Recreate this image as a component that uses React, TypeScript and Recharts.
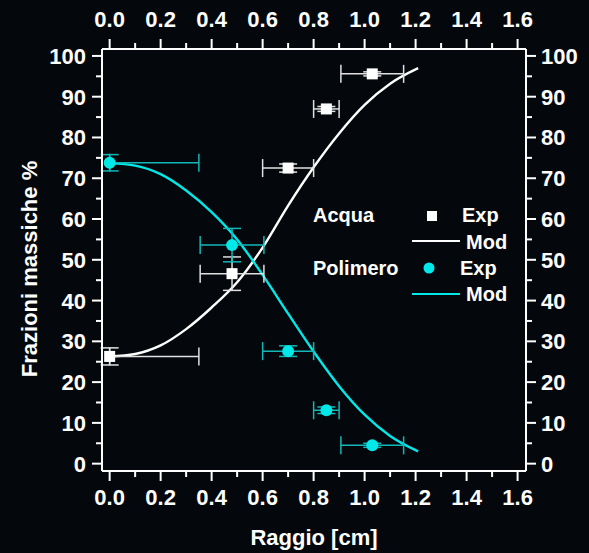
import { ComposedChart, Line, Scatter, ErrorBar, XAxis, YAxis } from 'recharts';

// experimental points (raggio in cm, frazioni in %)
const radius = [0, 0.48, 0.7, 0.85, 1.03];
const radiusErr = [[0, 0.35], [0.125, 0.125], [0.1, 0.1], [0.05, 0.05], [0.123, 0.123]];
const acquaExp = [26.3, 46.6, 72.5, 87.0, 95.6];
const acquaErr = [2.1, 4.1, 1.0, 0.6, 0.5];
const polimeroExp = [73.8, 53.6, 27.6, 13.1, 4.5];
const polimeroErr = [2.0, 4.1, 1.3, 0.8, 0.5];

// model curves
const modelRadius = [0, 0.1, 0.2, 0.3, 0.4, 0.5, 0.6, 0.7, 0.8, 0.9, 1.0, 1.1, 1.21];
const acquaMod = [26.3, 26.9, 29.0, 33.0, 38.3, 44.5, 53.0, 63.3, 72.7, 81.0, 88.0, 93.2, 97.0];
const polimeroMod = [73.7, 73.1, 71.0, 67.0, 61.7, 55.0, 46.3, 36.8, 27.5, 19.0, 12.0, 6.8, 3.0];

const xTicks = [0, 0.1, 0.2, 0.3, 0.4, 0.5, 0.6, 0.7, 0.8, 0.9, 1.0, 1.1, 1.2, 1.3, 1.4, 1.5, 1.6];
const yTicks = [0, 5, 10, 15, 20, 25, 30, 35, 40, 45, 50, 55, 60, 65, 70, 75, 80, 85, 90, 95, 100];

const acquaData = radius.map((x, i) => ({ x, y: acquaExp[i], ex: radiusErr[i], ey: acquaErr[i] }));
const polimeroData = radius.map((x, i) => ({ x, y: polimeroExp[i], ex: radiusErr[i], ey: polimeroErr[i] }));
const modelData = modelRadius.map((x, i) => ({ x, acqua: acquaMod[i], polimero: polimeroMod[i] }));

const FONT = '"Liberation Sans", Arial, Helvetica, sans-serif';
const CYAN = '#00e8e8';
const BG = '#04080c';

const xMajor = (v: number) => Math.round(v * 10) % 2 === 0;
const yMajor = (v: number) => v % 10 === 0;

const label = (x: number, y: number, txt: string, anchor: string) => (
  <text x={x} y={y} textAnchor={anchor} fill="#fff" fontSize={22} fontWeight="bold" fontFamily={FONT}>
    {txt}
  </text>
);

const BottomTick = ({ x, y, payload }: any) => {
  const v = payload.value;
  const m = xMajor(v);
  return (
    <g>
      <line x1={x} y1={y} x2={x} y2={y + (m ? 10 : 6)} stroke="#fff" strokeWidth={2} />
      {m && label(x, y + 34, v.toFixed(1), 'middle')}
    </g>
  );
};

const TopTick = ({ x, y, payload }: any) => {
  const v = payload.value;
  const m = xMajor(v);
  return (
    <g>
      <line x1={x} y1={y} x2={x} y2={y - (m ? 10 : 6)} stroke="#fff" strokeWidth={2} />
      {m && label(x, y - 22, v.toFixed(1), 'middle')}
    </g>
  );
};

const LeftTick = ({ x, y, payload }: any) => {
  const v = payload.value;
  const m = yMajor(v);
  return (
    <g>
      <line x1={x} y1={y} x2={x - (m ? 10 : 6)} y2={y} stroke="#fff" strokeWidth={2} />
      {m && label(x - 16, y + 8, String(v), 'end')}
    </g>
  );
};

const RightTick = ({ x, y, payload }: any) => {
  const v = payload.value;
  const m = yMajor(v);
  return (
    <g>
      <line x1={x} y1={y} x2={x + (m ? 10 : 6)} y2={y} stroke="#fff" strokeWidth={2} />
      {m && label(x + 15, y + 8, String(v), 'start')}
    </g>
  );
};

const Square = (p: any) => <rect x={p.cx - 5.5} y={p.cy - 5.5} width={11} height={11} fill="#fff" />;
const Dot = (p: any) => <circle cx={p.cx} cy={p.cy} r={6} fill={CYAN} />;

const xDomain = [-0.03, 1.633];
const yDomain = [-1.8, 101.7];

export default function App() {
  return (
    <div style={{ position: 'absolute', left: 0, top: 0, width: 589, height: 553, background: BG }}>
      <ComposedChart width={589} height={553} margin={{ top: 0, right: 0, bottom: 0, left: 0 }}>
        <XAxis
          xAxisId="b"
          dataKey="x"
          type="number"
          orientation="bottom"
          domain={xDomain}
          allowDataOverflow
          ticks={xTicks}
          interval={0}
          height={82}
          tickSize={0}
          tickMargin={0}
          tickLine={false}
          tick={<BottomTick />}
          axisLine={{ stroke: '#fff', strokeWidth: 2 }}
        />
        <XAxis
          xAxisId="t"
          dataKey="x"
          type="number"
          orientation="top"
          domain={xDomain}
          allowDataOverflow
          ticks={xTicks}
          interval={0}
          height={49}
          tickSize={0}
          tickMargin={0}
          tickLine={false}
          tick={<TopTick />}
          axisLine={{ stroke: '#fff', strokeWidth: 2 }}
        />
        <YAxis
          yAxisId="l"
          type="number"
          orientation="left"
          domain={yDomain}
          allowDataOverflow
          ticks={yTicks}
          interval={0}
          width={102}
          tickSize={0}
          tickMargin={0}
          tickLine={false}
          tick={<LeftTick />}
          axisLine={{ stroke: '#fff', strokeWidth: 2 }}
        />
        <YAxis
          yAxisId="r"
          type="number"
          orientation="right"
          domain={yDomain}
          allowDataOverflow
          ticks={yTicks}
          interval={0}
          width={63}
          tickSize={0}
          tickMargin={0}
          tickLine={false}
          tick={<RightTick />}
          axisLine={{ stroke: '#fff', strokeWidth: 2 }}
        />
        <Line data={modelData} dataKey="acqua" xAxisId="b" yAxisId="l" type="monotone" stroke="#fff" strokeWidth={2.4} dot={false} isAnimationActive={false} />
        <Line data={modelData} dataKey="polimero" xAxisId="b" yAxisId="l" type="monotone" stroke={CYAN} strokeWidth={2.4} dot={false} isAnimationActive={false} />
        <Scatter data={acquaData} dataKey="y" xAxisId="b" yAxisId="l" shape={<Square />} isAnimationActive={false}>
          <ErrorBar dataKey="ex" direction="x" width={9} stroke="#e0e0e0" strokeWidth={1.5} />
          <ErrorBar dataKey="ey" direction="y" width={9} stroke="#e0e0e0" strokeWidth={1.5} />
        </Scatter>
        <Scatter data={polimeroData} dataKey="y" xAxisId="b" yAxisId="l" shape={<Dot />} isAnimationActive={false}>
          <ErrorBar dataKey="ex" direction="x" width={9} stroke="#10b8b8" strokeWidth={1.5} />
          <ErrorBar dataKey="ey" direction="y" width={9} stroke="#10b8b8" strokeWidth={1.5} />
        </Scatter>
      </ComposedChart>
      <svg width={589} height={553} style={{ position: 'absolute', left: 0, top: 0, pointerEvents: 'none' }}>
        <text x={314} y={545} textAnchor="middle" fill="#fff" fontSize={22} fontWeight="bold" fontFamily={FONT}>
          Raggio [cm]
        </text>
        <text
          x={0}
          y={0}
          transform="translate(37 269) rotate(-90)"
          textAnchor="middle"
          fill="#fff"
          fontSize={22}
          fontWeight="bold"
          fontFamily={FONT}
        >
          Frazioni massiche %
        </text>
        <g fontFamily={FONT} fontSize={20} fontWeight="bold" fill="#fff">
          <text x={313} y={222}>Acqua</text>
          <rect x={427} y={211} width={10} height={10} fill="#fff" />
          <text x={462} y={222}>Exp</text>
          <line x1={412} y1={241} x2={460} y2={241} stroke="#fff" strokeWidth={2} />
          <text x={466} y={249}>Mod</text>
          <text x={313} y={275}>Polimero</text>
          <circle cx={429} cy={268} r={5.5} fill={CYAN} />
          <text x={460} y={275}>Exp</text>
          <line x1={412} y1={294} x2={460} y2={294} stroke={CYAN} strokeWidth={2} />
          <text x={466} y={301}>Mod</text>
        </g>
      </svg>
    </div>
  );
}
